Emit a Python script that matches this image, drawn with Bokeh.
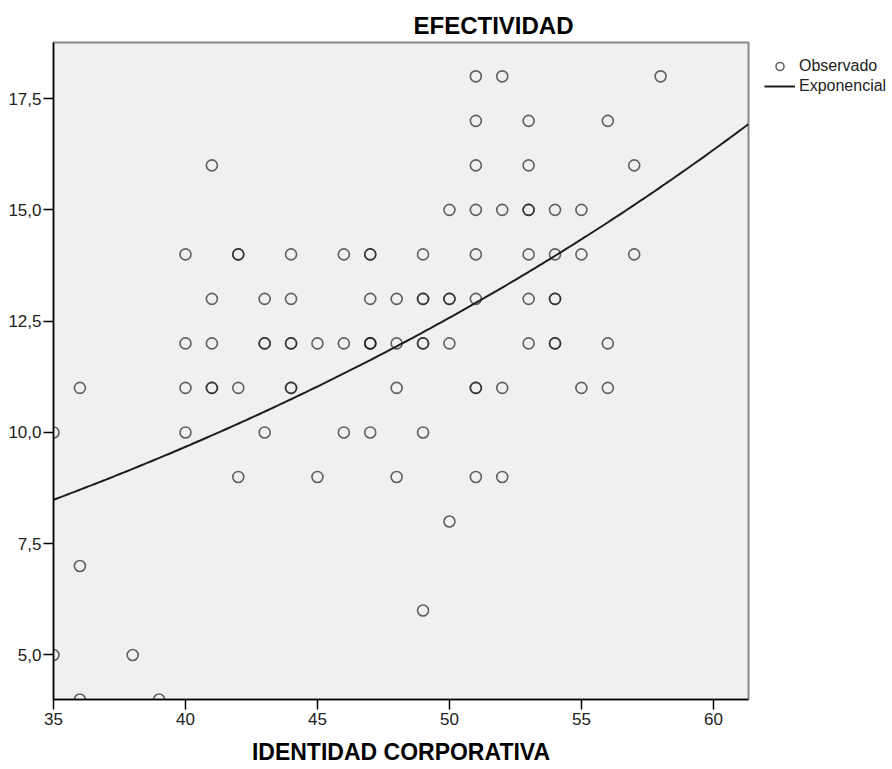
import numpy as np
from bokeh.plotting import figure
from bokeh.layouts import row
from bokeh.models import (ColumnDataSource, FixedTicker, CustomJSTickFormatter,
                          Legend, LegendItem, Title, Range1d)
from bokeh.embed import file_html
from bokeh.resources import INLINE

TITLE = "EFECTIVIDAD"
X_LABEL = "IDENTIDAD CORPORATIVA"
LEGEND_LABELS = ["Observado", "Exponencial"]
X_TICKS = [35, 40, 45, 50, 55, 60]
Y_TICKS = [5.0, 7.5, 10.0, 12.5, 15.0, 17.5]

# Observed cases (duplicates = overlapping circles), grouped by EFECTIVIDAD
identidad = [
    51, 52, 58,                                                      # 18
    51, 53, 56,                                                      # 17
    41, 51, 53, 57,                                                  # 16
    50, 51, 52, 53, 53, 54, 55,                                      # 15
    40, 42, 42, 44, 46, 47, 47, 49, 51, 53, 54, 55, 57,              # 14
    41, 43, 44, 47, 48, 49, 49, 50, 50, 51, 53, 54, 54,              # 13
    40, 41, 43, 43, 44, 44, 45, 46, 47, 47, 47, 48, 49, 49, 50, 53, 54, 54, 56,  # 12
    41, 36, 40, 41, 42, 44, 44, 48, 51, 51, 52, 55, 56,              # 11
    35, 40, 43, 46, 47, 49,                                          # 10
    42, 45, 48, 51, 52,                                              # 9
    50,                                                              # 8
    36,                                                              # 7
    49,                                                              # 6
    35, 38,                                                          # 5
    36, 39,                                                          # 4
]
efectividad = (
    [18] * 3 + [17] * 3 + [16] * 4 + [15] * 7 + [14] * 13 + [13] * 13 +
    [12] * 19 + [11] * 13 + [10] * 6 + [9] * 5 + [8] * 1 + [7] * 1 +
    [6] * 1 + [5] * 2 + [4] * 2
)

# Exponential fit y = A * exp(B * x), parameters
FIT_A = 3.39
FIT_B = 0.02622

X_MIN, X_MAX = 35.0, 61.33
Y_MIN, Y_MAX = 4.0, 18.76

FONT = "Liberation Sans"
MARK_STYLE = dict(marker="circle", size=11, fill_color=None, line_color="#222222",
                  line_alpha=0.7, line_width=1.6)
LINE_STYLE = dict(line_color="#1e1e1e", line_width=2)

src = ColumnDataSource(dict(x=identidad, y=efectividad))
cx = np.linspace(X_MIN, X_MAX, 200)
fit_src = ColumnDataSource(dict(x=cx, y=FIT_A * np.exp(FIT_B * cx)))

# ---------------- main chart ----------------
p = figure(width=750, height=769, output_backend="svg", toolbar_location=None,
           x_range=Range1d(X_MIN, X_MAX), y_range=Range1d(Y_MIN, Y_MAX),
           min_border_left=53, min_border_right=2, min_border_top=42,
           min_border_bottom=70)
p.background_fill_color = "#f0f0f0"
p.border_fill_color = "white"
p.outline_line_color = "#8a8a8a"
p.outline_line_width = 2
p.xgrid.visible = False
p.ygrid.visible = False

p.scatter("x", "y", source=src, **MARK_STYLE)
p.line("x", "y", source=fit_src, **LINE_STYLE)

for ax in (p.xaxis[0], p.yaxis[0]):
    ax.axis_line_color = "black"
    ax.axis_line_width = 1.5
    ax.major_tick_line_color = "black"
    ax.major_tick_line_width = 1.5
    ax.major_tick_out = 10
    ax.major_tick_in = 0
    ax.minor_tick_line_color = None
    ax.major_label_text_font = FONT
    ax.major_label_text_font_size = "17px"
    ax.major_label_text_color = "#222222"

p.xaxis.ticker = FixedTicker(ticks=X_TICKS)
p.yaxis.ticker = FixedTicker(ticks=Y_TICKS)
p.yaxis.formatter = CustomJSTickFormatter(code="return tick.toFixed(1).replace('.', ',');")
p.yaxis.major_label_standoff = 2
p.xaxis.major_label_standoff = 3
p.xaxis.axis_label = X_LABEL
p.xaxis.axis_label_text_font = FONT
p.xaxis.axis_label_text_font_size = "23px"
p.xaxis.axis_label_text_font_style = "bold"
p.xaxis.axis_label_text_color = "black"
p.xaxis.axis_label_standoff = 11

title = Title(text=TITLE, text_font=FONT, text_font_size="24px",
              text_font_style="bold", text_color="black", align="left",
              offset=360, standoff=7)
p.add_layout(title, "above")

# ---------------- legend column (same data, kept out of view) ----------------
q = figure(width=142, height=769, output_backend="svg", toolbar_location=None,
           x_range=Range1d(0, 1), y_range=Range1d(0, 1),
           x_axis_location=None, y_axis_location=None,
           min_border_left=0, min_border_right=0, min_border_bottom=0,
           min_border_top=31)
q.xgrid.visible = False
q.ygrid.visible = False
q.outline_line_color = None
q.background_fill_color = "white"
q.border_fill_color = "white"
lg_sc = q.scatter("x", "y", source=src, **MARK_STYLE)
lg_ln = q.line("x", "y", source=fit_src, **LINE_STYLE)

legend = Legend(items=[LegendItem(label=LEGEND_LABELS[0], renderers=[lg_sc]),
                       LegendItem(label=LEGEND_LABELS[1], renderers=[lg_ln])],
                location="top_left", glyph_width=31, glyph_height=20,
                label_height=16, spacing=-6, padding=0, margin=14,
                border_line_color=None, background_fill_alpha=0,
                label_text_font=FONT, label_text_font_size="16px",
                label_standoff=4, label_text_color="#222222")
q.add_layout(legend)

layout = row(p, q)
open("out.html", "w").write(file_html(layout, INLINE))
